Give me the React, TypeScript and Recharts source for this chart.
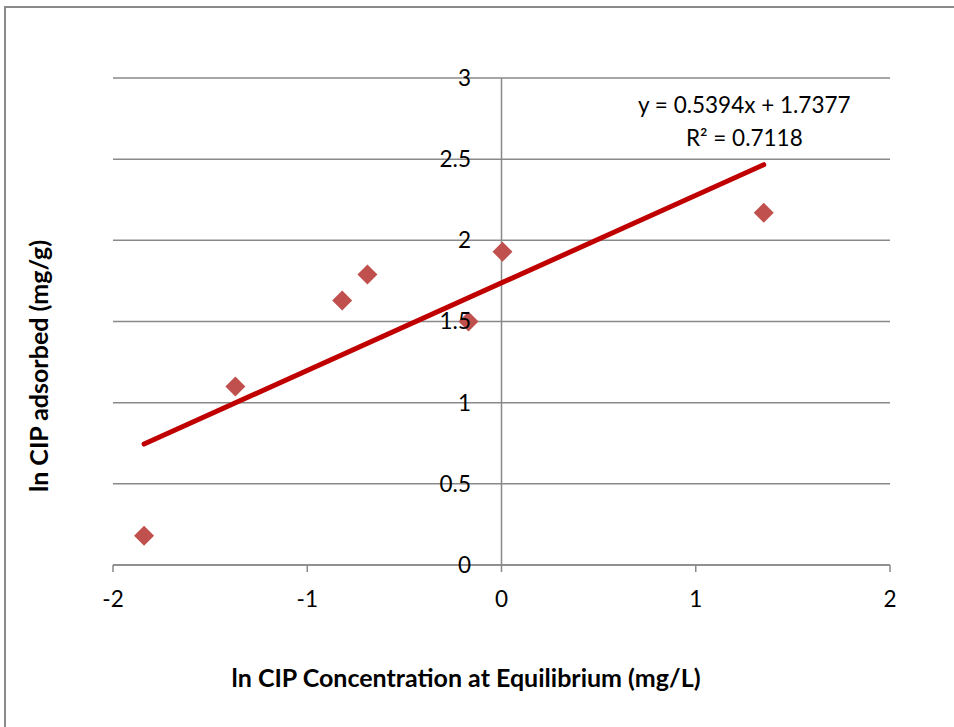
import {
  CartesianGrid,
  LabelList,
  ReferenceDot,
  ReferenceLine,
  Scatter,
  ScatterChart,
  XAxis,
  YAxis,
} from "recharts";

// ln(Ce) vs ln(qe)
const lnCe = [-1.84, -1.37, -0.82, -0.69, -0.17, 0.005, 1.35];
const lnQe = [0.18, 1.1, 1.63, 1.79, 1.5, 1.93, 2.17];

// linear trendline end points (as drawn)
const trendX = [-1.84, 1.35];
const trendY = [0.745, 2.466];

const xTicks = [-2, -1, 0, 1, 2];
const yTicks = [0, 0.5, 1, 1.5, 2, 2.5, 3];

const eqLines = ["y = 0.5394x + 1.7377", "R² = 0.7118"];

const points = lnCe.map((x, i) => ({ x, y: lnQe[i] }));
const trend = trendX.map((x, i) => ({ x, y: trendY[i] }));
const yLabels = yTicks.map((y) => ({ x: 0, y }));

const FONT = "Lato, 'Liberation Sans', sans-serif";
const GREY = "#898989";
const FS = 22.5;
const TITLE_FS = 25;

const Diamond = (p: any) => {
  const { cx, cy } = p;
  const r = 10;
  return (
    <polygon
      points={`${cx},${cy - r} ${cx + r},${cy} ${cx},${cy + r} ${cx - r},${cy}`}
      fill="#c0504d"
    />
  );
};

const Nothing = () => <g />;

export default function App() {
  return (
    <div
      style={{
        position: "absolute",
        left: 0,
        top: 0,
        width: 954,
        height: 727,
        overflow: "hidden",
        background: "#fff",
        fontFamily: FONT,
      }}
    >
      <div
        style={{
          position: "absolute",
          left: 4,
          top: 6,
          width: 1100,
          height: 900,
          borderLeft: "2px solid #8a8a8a",
          borderTop: "2px solid #8a8a8a",
        }}
      />
      <div
        style={{
          position: "absolute",
          left: 38,
          top: 366,
          transform: "translate(-50%, -50%) rotate(-90deg)",
          whiteSpace: "nowrap",
          fontWeight: 700,
          fontSize: TITLE_FS,
          color: "#000",
        }}
      >
        ln CIP adsorbed (mg/g)
      </div>
      <div style={{ position: "absolute", left: 0, top: 0 }}>
        <ScatterChart
          width={954}
          height={727}
          margin={{ left: 113, right: 64, top: 78, bottom: 122 }}
        >
          <CartesianGrid vertical={false} stroke={GREY} strokeWidth={1.5} />
          <XAxis
            type="number"
            dataKey="x"
            domain={[-2, 2]}
            ticks={xTicks}
            height={40}
            stroke={GREY}
            strokeWidth={1.5}
            tickSize={7}
            tickMargin={19}
            tick={{ fill: "#000", fontSize: FS, fontFamily: FONT }}
            allowDataOverflow
          />
          <YAxis type="number" dataKey="y" domain={[0, 3]} ticks={yTicks} hide />
          <ReferenceLine x={0} stroke={GREY} strokeWidth={1.5} />
          <Scatter data={yLabels} shape={Nothing} isAnimationActive={false}>
            <LabelList
              dataKey="y"
              position="left"
              offset={26}
              fill="#000"
              fontSize={FS}
              fontFamily={FONT}
            />
          </Scatter>
          <Scatter
            data={trend}
            line={{ stroke: "#c00000", strokeWidth: 5, strokeLinecap: "round" }}
            shape={Nothing}
            isAnimationActive={false}
          />
          <Scatter data={points} shape={Diamond} isAnimationActive={false} />
          <ReferenceDot
            x={1.25}
            y={2.785}
            r={0}
            stroke="none"
            fill="none"
            label={(props: any) => {
              const vb = props.viewBox || {};
              const cx = vb.x + (vb.width || 0) / 2;
              const cy = vb.y + (vb.height || 0) / 2;
              return (
                <text
                  x={cx}
                  y={cy}
                  textAnchor="middle"
                  fontSize={FS}
                  fontFamily={FONT}
                  fill="#000"
                >
                  <tspan x={cx} dy={0}>
                    {eqLines[0]}
                  </tspan>
                  <tspan x={cx} dy={33}>
                    {eqLines[1]}
                  </tspan>
                </text>
              );
            }}
          />
        </ScatterChart>
      </div>
      <div
        style={{
          position: "absolute",
          left: 466,
          top: 677,
          transform: "translate(-50%, -50%)",
          whiteSpace: "nowrap",
          fontWeight: 700,
          fontSize: TITLE_FS,
          color: "#000",
        }}
      >
        ln CIP Concentration at Equilibrium (mg/L)
      </div>
    </div>
  );
}
